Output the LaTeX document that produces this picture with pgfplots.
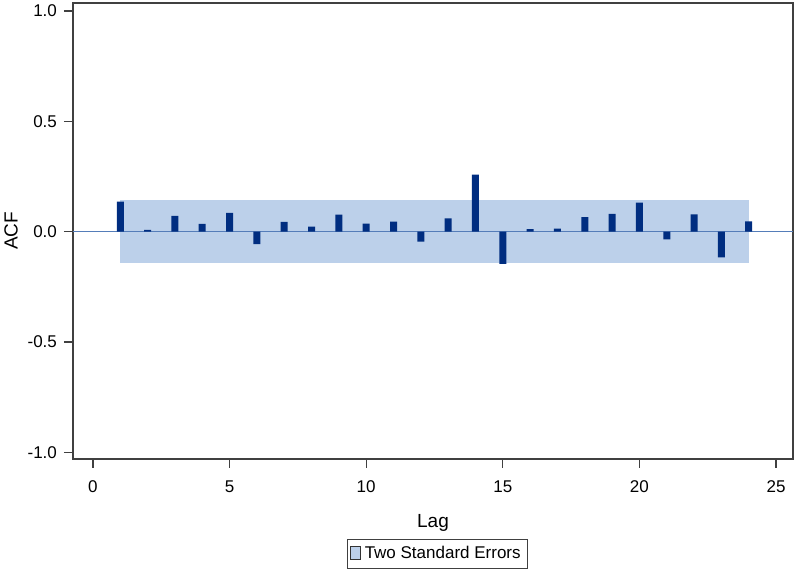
\documentclass[border=0pt]{standalone}
\usepackage{fontspec}
\setmainfont{Liberation Sans}
\usepackage{pgfplots}
\pgfplotsset{compat=1.18}

\definecolor{bandblue}{RGB}{188,208,234}
\definecolor{barnavy}{RGB}{0,45,128}
\definecolor{zeroline}{RGB}{85,125,185}
\definecolor{frame}{RGB}{64,64,64}

\begin{document}
\begin{tikzpicture}
\begin{axis}[
  name=ax,
  scale only axis,
  width=360pt,
  height=228pt,
  xmin=-0.73, xmax=25.62,
  ymin=-1.03, ymax=1.036,
  xtick={0,5,10,15,20,25},
  ytick={-1,-0.5,0,0.5,1},
  yticklabels={-1.0,-0.5,0.0,0.5,1.0},
  xtick pos=lower,
  ytick pos=left,
  tick align=outside,
  major tick length=4.5pt,
  axis line style={frame, line width=0.6pt},
  tick style={frame, line width=0.6pt},
  ticklabel style={font=\fontsize{8.5}{10}\selectfont},
  xticklabel style={yshift=-3pt},
  /pgf/number format/assume math mode=true,
  xlabel={Lag},
  ylabel={ACF},
  label style={font=\fontsize{9.5}{11}\selectfont},
  xlabel style={yshift=-4pt},
  ylabel style={yshift=-2pt},
  legend style={at={(0.506,-0.175)}, anchor=north, draw=frame,
    font=\fontsize{8.5}{10}\selectfont, inner sep=1.5pt},
  legend image code/.code={\draw[fill=bandblue, draw=black!80, line width=0.4pt] (0pt,-3pt) rectangle (5pt,3.5pt);},
]
\addplot[fill=bandblue, draw=none] coordinates {(1,-0.142) (24.02,-0.142) (24.02,0.142) (1,0.142)} -- cycle;
\addlegendentry{Two Standard Errors}
\addplot[zeroline, line width=0.6pt, forget plot] coordinates {(-0.73,0) (25.62,0)};
\addplot[ybar, bar width=3.5pt, bar shift=0pt, fill=barnavy, draw=none, forget plot] coordinates {
(1,0.136) (2,0.008) (3,0.072) (4,0.035) (5,0.085) (6,-0.056)
(7,0.044) (8,0.023) (9,0.077) (10,0.036) (11,0.045) (12,-0.045)
(13,0.060) (14,0.258) (15,-0.146) (16,0.011) (17,0.014) (18,0.066)
(19,0.080) (20,0.131) (21,-0.035) (22,0.078) (23,-0.116) (24,0.047)
};
\end{axis}
\pgfresetboundingbox
\path[use as bounding box] ([xshift=-36.5pt,yshift=-56pt]ax.south west) rectangle ([xshift=3.5pt,yshift=1.5pt]ax.north east);
\end{tikzpicture}
\end{document}
